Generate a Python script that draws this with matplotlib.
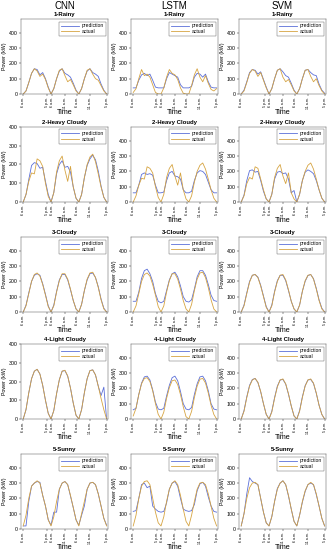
import matplotlib
matplotlib.use("Agg")
import matplotlib.pyplot as plt
import numpy as np

# ---- data (kW), 3 days x 10 steps + 1 -------------------------------------
cnn_rainy_act = [0, 20, 75, 135, 165, 150, 115, 130, 95, 40, 0, 35, 100, 155, 165, 120, 80, 95, 60, 20, 0, 35, 100, 155, 165, 130, 100, 90, 55, 20, 0]
cnn_rainy_pred = [0, 20, 75, 135, 165, 160, 125, 140, 100, 45, 0, 35, 100, 150, 165, 135, 125, 110, 70, 25, 0, 35, 100, 150, 165, 140, 130, 115, 65, 25, 0]
cnn_hc_act = [0, 40, 110, 155, 150, 230, 220, 190, 100, 30, 0, 50, 160, 220, 245, 170, 110, 190, 80, 20, 0, 40, 130, 200, 240, 255, 215, 150, 80, 25, 0]
cnn_hc_pred = [0, 40, 120, 195, 210, 205, 180, 185, 110, 40, 0, 50, 150, 200, 220, 185, 190, 160, 80, 20, 0, 40, 130, 195, 230, 250, 225, 165, 85, 25, 0]
cnn_cloudy_act = [0, 40, 120, 200, 245, 255, 235, 180, 110, 35, 0, 40, 130, 205, 250, 250, 215, 150, 75, 20, 0, 50, 140, 215, 255, 260, 225, 160, 80, 20, 0]
cnn_cloudy_pred = [0, 45, 125, 200, 240, 250, 240, 185, 115, 40, 0, 45, 135, 210, 245, 245, 210, 145, 75, 20, 0, 50, 140, 210, 250, 255, 225, 165, 85, 25, 0]
cnn_lc_act = [0, 50, 140, 215, 255, 265, 240, 180, 100, 30, 0, 45, 135, 210, 255, 260, 230, 165, 85, 20, 0, 50, 140, 215, 258, 262, 235, 175, 110, 50, 0]
cnn_lc_pred = [0, 50, 140, 215, 255, 265, 240, 180, 100, 30, 0, 45, 135, 210, 255, 258, 228, 165, 85, 20, 0, 50, 140, 215, 258, 262, 235, 175, 125, 170, 0]
cnn_sunny_act = [20, 90, 200, 280, 300, 315, 300, 220, 150, 60, 20, 80, 180, 260, 300, 310, 290, 220, 140, 60, 20, 100, 180, 260, 300, 305, 290, 230, 150, 70, 20]
cnn_sunny_pred = [20, 20, 180, 280, 300, 310, 305, 220, 150, 60, 25, 110, 110, 260, 300, 310, 290, 215, 140, 60, 25, 90, 150, 260, 300, 305, 290, 230, 150, 70, 25]

lstm_rainy_act = [10, 35, 100, 160, 120, 130, 110, 60, 10, 0, 0, 40, 110, 160, 135, 125, 95, 40, 5, 0, 0, 55, 125, 165, 110, 80, 120, 70, 30, 20, 35]
lstm_rainy_pred = [40, 40, 90, 125, 135, 120, 130, 90, 45, 40, 40, 40, 100, 140, 130, 120, 110, 60, 40, 40, 40, 50, 110, 135, 130, 110, 130, 80, 45, 40, 40]
lstm_hc_act = [0, 40, 110, 155, 150, 230, 220, 190, 100, 30, 0, 50, 160, 220, 245, 170, 110, 190, 80, 20, 0, 40, 130, 200, 240, 255, 215, 150, 80, 25, 0]
lstm_hc_pred = [60, 60, 110, 180, 190, 180, 185, 175, 110, 60, 60, 65, 140, 190, 200, 170, 165, 150, 80, 60, 60, 70, 140, 190, 205, 200, 180, 130, 80, 60, 60]
lstm_cloudy_act = [0, 40, 120, 200, 245, 255, 235, 180, 110, 35, 0, 40, 130, 205, 250, 250, 215, 150, 75, 20, 0, 50, 140, 215, 255, 260, 225, 160, 80, 20, 0]
lstm_cloudy_pred = [70, 70, 130, 220, 270, 280, 250, 200, 120, 70, 60, 70, 140, 210, 250, 260, 230, 170, 100, 70, 65, 80, 150, 230, 270, 270, 240, 180, 110, 75, 70]
lstm_lc_act = [20, 70, 160, 230, 265, 270, 245, 185, 100, 30, 0, 45, 135, 205, 250, 255, 225, 160, 80, 15, 0, 50, 140, 215, 260, 265, 235, 170, 90, 30, 0]
lstm_lc_pred = [60, 70, 160, 235, 275, 280, 255, 190, 110, 65, 60, 70, 150, 220, 270, 280, 250, 180, 100, 65, 60, 75, 160, 230, 275, 280, 250, 185, 100, 65, 60]
lstm_sunny_act = [20, 90, 200, 280, 310, 315, 290, 200, 110, 40, 20, 80, 180, 260, 300, 315, 290, 220, 130, 50, 20, 90, 180, 260, 300, 305, 290, 230, 150, 70, 20]
lstm_sunny_pred = [115, 120, 200, 290, 300, 270, 280, 150, 130, 115, 110, 115, 170, 260, 300, 310, 280, 200, 130, 120, 115, 120, 160, 250, 295, 305, 280, 210, 150, 115, 110]

svm_rainy_act = [0, 20, 75, 135, 160, 150, 115, 140, 90, 40, 0, 35, 100, 155, 165, 110, 80, 95, 60, 20, 0, 35, 100, 155, 160, 115, 80, 100, 55, 20, 0]
svm_rainy_pred = [0, 25, 80, 140, 160, 155, 130, 145, 95, 45, 0, 35, 100, 155, 165, 145, 120, 110, 70, 25, 0, 35, 100, 155, 160, 140, 125, 120, 65, 25, 5]
svm_hc_act = [0, 40, 120, 160, 150, 230, 220, 150, 80, 20, 0, 50, 160, 220, 245, 170, 120, 190, 60, 20, 0, 50, 140, 200, 240, 255, 215, 150, 80, 25, 0]
svm_hc_pred = [0, 45, 140, 205, 210, 195, 200, 140, 70, 20, 0, 50, 150, 195, 200, 185, 190, 150, 60, 75, 0, 50, 140, 195, 210, 200, 185, 140, 80, 25, 0]
svm_cloudy_act = [0, 40, 120, 195, 240, 245, 225, 170, 100, 30, 0, 40, 130, 200, 240, 245, 210, 145, 70, 20, 0, 45, 135, 205, 240, 245, 215, 150, 75, 20, 0]
svm_cloudy_pred = [0, 45, 125, 200, 240, 245, 228, 175, 105, 35, 0, 45, 135, 205, 240, 240, 205, 140, 70, 20, 0, 45, 135, 200, 238, 245, 218, 155, 80, 25, 0]
svm_lc_act = [0, 50, 140, 215, 255, 265, 240, 180, 100, 30, 0, 45, 135, 210, 255, 262, 230, 165, 85, 20, 0, 50, 140, 215, 255, 262, 235, 170, 90, 30, 0]
svm_lc_pred = [0, 55, 145, 220, 258, 265, 238, 178, 100, 30, 0, 50, 140, 215, 255, 258, 228, 162, 85, 20, 0, 55, 145, 218, 255, 258, 232, 168, 90, 30, 0]
svm_sunny_act = [20, 100, 200, 270, 300, 305, 290, 200, 110, 40, 20, 80, 180, 260, 300, 315, 290, 220, 130, 50, 20, 90, 180, 250, 290, 305, 290, 230, 150, 70, 20]
svm_sunny_pred = [20, 100, 230, 335, 310, 300, 290, 200, 110, 40, 20, 80, 180, 265, 300, 315, 290, 215, 130, 50, 20, 90, 175, 245, 290, 300, 290, 225, 150, 70, 20]

models = ["CNN", "LSTM", "SVM"]
weather = ["1-Rainy", "2-Heavy Cloudy", "3-Cloudy", "4-Light Cloudy", "5-Sunny"]
tick_labels = ["6 a.m.", "5 p.m.", "6 a.m.", "11 a.m.", "6 a.m.", "11 a.m.", "5 p.m."]

series = [
    [(cnn_rainy_pred, cnn_rainy_act), (lstm_rainy_pred, lstm_rainy_act), (svm_rainy_pred, svm_rainy_act)],
    [(cnn_hc_pred, cnn_hc_act), (lstm_hc_pred, lstm_hc_act), (svm_hc_pred, svm_hc_act)],
    [(cnn_cloudy_pred, cnn_cloudy_act), (lstm_cloudy_pred, lstm_cloudy_act), (svm_cloudy_pred, svm_cloudy_act)],
    [(cnn_lc_pred, cnn_lc_act), (lstm_lc_pred, lstm_lc_act), (svm_lc_pred, svm_lc_act)],
    [(cnn_sunny_pred, cnn_sunny_act), (lstm_sunny_pred, lstm_sunny_act), (svm_sunny_pred, svm_sunny_act)],
]

# ---- layout -----------------------------------------------------------------
W, H = 329, 550
COL_LEFT = [21, 131, 239]
AX_W = 87
ROW_TOP = [19, 127, 237, 344, 454]
AX_H = 75
TICK_POS = [0, 8.5, 10.5, 15, 19.5, 24, 30]
YMAX_400 = {(1, 0), (3, 0)}
PRED_COLOR = "#5b6fd8"
ACT_COLOR = "#d6a442"

plt.rcParams["font.family"] = ["Liberation Sans", "DejaVu Sans"]
fig = plt.figure(figsize=(W / 100, H / 100), dpi=100)

for r in range(5):
    for c in range(3):
        pred, act = series[r][c]
        x = np.arange(len(pred))
        ax = fig.add_axes([COL_LEFT[c] / W, 1 - (ROW_TOP[r] + AX_H) / H, AX_W / W, AX_H / H])
        ax.plot(x, pred, color=PRED_COLOR, lw=0.6, label="prediction")
        ax.plot(x, act, color=ACT_COLOR, lw=0.6, label="actual")
        ax.set_xlim(-0.8, 30.5)
        ax.set_ylim(0, 400 if (r, c) in YMAX_400 else 490)
        ax.set_yticks([0, 100, 200, 300, 400])
        ax.set_xticks(TICK_POS)
        ax.set_xticklabels(tick_labels, rotation=90, fontsize=2.6)
        ax.tick_params(axis="y", labelsize=3.8, length=1.2, width=0.3, pad=1)
        ax.tick_params(axis="x", length=1.2, width=0.3, pad=0.8)
        for sp in ax.spines.values():
            sp.set_linewidth(0.35)
            sp.set_color("#555555")
        ax.set_title(weather[r], fontsize=4.3, fontweight="bold", pad=2.5)
        ax.set_ylabel("Power (kW)", fontsize=3.8, labelpad=1.5)
        ax.set_xlabel("Time", fontsize=5.2, labelpad=0.5)
        leg = ax.legend(loc="upper right", fontsize=3.6, handlelength=3.6,
                        borderpad=0.35, labelspacing=0.15, handletextpad=0.5,
                        fancybox=False, framealpha=1, edgecolor="#555555")
        leg.get_frame().set_linewidth(0.3)
        if r == 0:
            fig.text((COL_LEFT[c] + AX_W / 2) / W, 1 - 6 / H, models[c],
                     ha="center", va="center", fontsize=7)

fig.savefig("out.png", dpi=100)
